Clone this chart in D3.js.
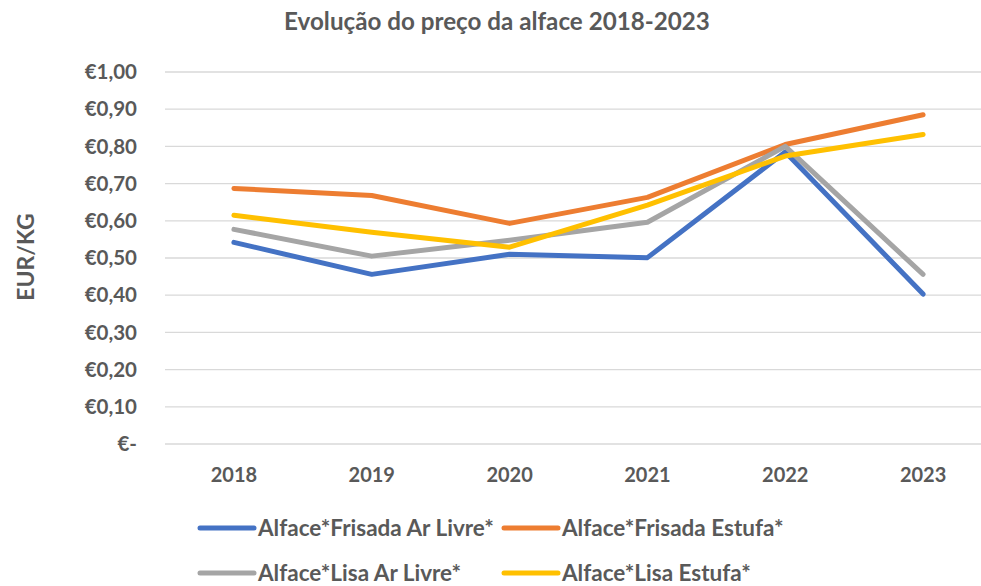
<!DOCTYPE html>
<html>
<head>
<meta charset="utf-8">
<script src="https://cdn.jsdelivr.net/npm/d3@7.9.0/dist/d3.min.js"></script>
<style>
  body { margin: 0; background: #fff; }
  svg { display: block; font-family: Lato, "Open Sans", sans-serif; font-weight: bold; }
  text { fill: #595959; }
</style>
</head>
<body>
<svg id="chart" width="981" height="586"></svg>
<script>
const years = ['2018', '2019', '2020', '2021', '2022', '2023'];
const frisadaArLivre = [0.542, 0.456, 0.510, 0.501, 0.785, 0.403];
const frisadaEstufa = [0.687, 0.668, 0.593, 0.663, 0.805, 0.885];
const lisaArLivre = [0.577, 0.505, 0.548, 0.596, 0.800, 0.456];
const lisaEstufa = [0.615, 0.569, 0.529, 0.642, 0.774, 0.832];
const yTicks = [0, 0.1, 0.2, 0.3, 0.4, 0.5, 0.6, 0.7, 0.8, 0.9, 1.0];

const series = [
  { name: 'Alface*Frisada Ar Livre*', values: frisadaArLivre, color: '#4472C4' },
  { name: 'Alface*Frisada Estufa*', values: frisadaEstufa, color: '#ED7D31' },
  { name: 'Alface*Lisa Ar Livre*', values: lisaArLivre, color: '#A5A5A5' },
  { name: 'Alface*Lisa Estufa*', values: lisaEstufa, color: '#FFC000' }
];

const svg = d3.select('#chart');
const plotLeft = 165, plotRight = 992, plotTop = 72, plotBottom = 444;

const x = d3.scaleBand().domain(years).range([plotLeft, plotRight]);
const y = d3.scaleLinear().domain([0, 1]).range([plotBottom, plotTop]);

// title
svg.append('text')
  .attr('x', 497).attr('y', 30)
  .attr('text-anchor', 'middle')
  .attr('font-size', 24.2)
  .text('Evolução do preço da alface 2018-2023');

// gridlines
svg.append('g')
  .selectAll('line')
  .data(yTicks)
  .join('line')
  .attr('x1', plotLeft).attr('x2', 981)
  .attr('y1', (d) => y(d)).attr('y2', (d) => y(d))
  .attr('stroke', '#D9D9D9')
  .attr('stroke-width', 1.3);

// y tick labels
const fmt = (d) => d === 0 ? '€-' : '€' + d.toFixed(2).replace('.', ',');
svg.append('g')
  .selectAll('text')
  .data(yTicks)
  .join('text')
  .attr('x', 137)
  .attr('y', (d) => y(d))
  .attr('dy', '0.35em')
  .attr('text-anchor', 'end')
  .attr('font-size', 20.5)
  .text(fmt);

// x labels
svg.append('g')
  .selectAll('text')
  .data(years)
  .join('text')
  .attr('x', (d) => x(d) + x.bandwidth() / 2)
  .attr('y', 475)
  .attr('dy', '0.35em')
  .attr('text-anchor', 'middle')
  .attr('font-size', 20)
  .text((d) => d);

// y axis title
svg.append('text')
  .attr('transform', 'translate(26,257) rotate(-90)')
  .attr('text-anchor', 'middle')
  .attr('dy', '0.35em')
  .attr('font-size', 23)
  .text('EUR/KG');

// lines
const line = d3.line()
  .x((d, i) => x(years[i]) + x.bandwidth() / 2)
  .y((d) => y(d));

svg.append('g')
  .selectAll('path')
  .data(series)
  .join('path')
  .attr('d', (s) => line(s.values))
  .attr('fill', 'none')
  .attr('stroke', (s) => s.color)
  .attr('stroke-width', 5)
  .attr('stroke-linecap', 'round')
  .attr('stroke-linejoin', 'round');

// legend
const legendPos = [[200, 528], [504, 528], [200, 573], [504, 573]];
const legend = svg.append('g')
  .selectAll('g')
  .data(series)
  .join('g')
  .attr('transform', (s, i) => `translate(${legendPos[i][0]},${legendPos[i][1]})`);

legend.append('line')
  .attr('x1', 0).attr('x2', 54)
  .attr('stroke', (s) => s.color)
  .attr('stroke-width', 5)
  .attr('stroke-linecap', 'round');

legend.append('text')
  .attr('x', 58)
  .attr('dy', '0.35em')
  .attr('font-size', 22.5)
  .text((s) => s.name);
</script>
</body>
</html>
